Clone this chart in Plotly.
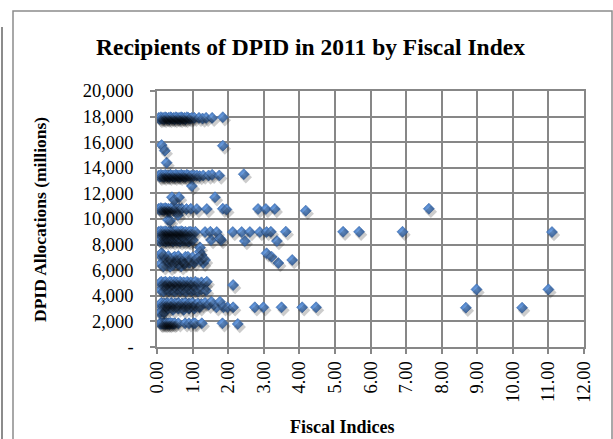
import plotly.graph_objects as go

# ---- data (fiscal index, DPID allocation in millions) ----
band_18k_x = [0.05,0.08,0.11,0.14,0.17,0.20,0.23,0.26,0.29,0.32,0.35,0.38,0.41,0.44,0.47,0.50,0.53,0.56,0.59,0.62,0.65,0.68,0.71,0.74,0.77,0.80,0.84,0.88,0.93,0.98,1.05,1.18,1.28,1.38,1.55,1.85]
band_18k_y = [17900,17800,17950,17850,17900,17800,17950,17900,17850,17900,17800,17950,17900,17850,17900,17800,17950,17900,17850,17900,17800,17950,17900,17850,17900,17800,17950,17900,17850,17900,17900,17900,17850,17900,17900,17950]

band_15k_x = [0.13,0.22,0.27,1.85]
band_15k_y = [15780,15340,14400,15730]

band_13k_x = [0.05,0.08,0.11,0.14,0.17,0.20,0.23,0.26,0.29,0.32,0.35,0.38,0.41,0.44,0.47,0.50,0.53,0.56,0.59,0.62,0.65,0.68,0.71,0.74,0.77,0.80,0.84,0.88,0.93,0.98,1.05,1.12,1.20,1.30,1.45,1.55,1.75,2.44,0.98]
band_13k_y = [13400,13300,13450,13350,13400,13300,13450,13400,13350,13400,13300,13450,13400,13350,13400,13300,13450,13400,13350,13400,13300,13450,13400,13350,13400,13300,13450,13400,13350,13400,13400,13400,13350,13400,13400,13450,13400,13500,12580]

band_11k_x = [0.42,0.50,0.62,1.63]
band_11k_y = [11700,11500,11700,11700]

band_10k_x = [0.05,0.08,0.11,0.14,0.17,0.20,0.23,0.26,0.29,0.32,0.36,0.40,0.45,0.50,0.55,0.62,0.70,0.83,0.95,1.12,1.40,1.85,1.95,2.84,3.06,3.31,4.18,7.64,0.31,0.59,0.37]
band_10k_y = [10800,10700,10850,10750,10800,10700,10850,10800,10750,10800,10700,10850,10800,10750,10800,10800,10800,10780,10800,10780,10780,10800,10750,10780,10780,10780,10650,10800,9920,10310,9870]

band_9k_x = [0.05,0.08,0.11,0.14,0.17,0.20,0.23,0.26,0.29,0.32,0.35,0.38,0.41,0.44,0.47,0.50,0.53,0.56,0.59,0.62,0.65,0.68,0.72,0.76,0.80,0.85,0.90,0.95,1.00,1.08,1.35,1.50,1.68,2.13,2.38,2.61,2.89,3.08,3.20,3.62,5.23,5.68,6.90,11.10]
band_9k_y = [9000,8900,9050,8950,9000,8900,9050,9000,8950,9000,8900,9050,9000,8950,9000,8900,9050,9000,8950,9000,8900,9050,9000,8950,9000,8900,9000,9000,8950,9000,8980,9000,8980,8980,8980,8980,8980,8980,9000,9010,9000,9000,9000,8980]

band_8k_x = [0.05,0.09,0.13,0.17,0.21,0.25,0.29,0.33,0.37,0.41,0.45,0.50,0.55,0.60,0.65,0.70,0.75,0.79,0.85,0.90,0.95,1.01,1.21,1.52,1.80,1.77,2.47,3.37]
band_8k_y = [8350,8250,8400,8300,8350,8250,8400,8300,8350,8360,8250,8400,8300,8360,8250,8350,8300,8360,8300,8250,8350,8360,7780,8360,8360,8490,8280,8280]

band_7k_x = [0.08,0.13,0.17,0.22,0.27,0.32,0.37,0.42,0.47,0.50,0.55,0.60,0.65,0.70,0.74,0.80,0.87,0.93,1.00,1.05,1.12,1.20,1.25,1.30,0.10,0.18,0.25,0.35,0.45,0.58,0.68,0.78,0.90,1.20,1.35,3.08,3.22,3.41,3.80]
band_7k_y = [7190,7340,7190,6560,6900,7100,6270,6700,7000,7050,6660,7100,6900,6660,6700,7050,7050,6650,7000,6600,6900,7450,7190,6560,6500,6300,6800,6900,6400,6500,6300,6500,6560,7050,6800,7320,7050,6560,6800]

band_5k_x = [0.08,0.12,0.16,0.20,0.24,0.28,0.32,0.36,0.40,0.44,0.48,0.52,0.56,0.60,0.65,0.70,0.75,0.80,0.85,0.90,0.95,1.00,1.08,1.15,1.25,1.35,1.40,0.10,0.18,0.26,0.34,0.42,0.50,0.58,0.66,0.74,0.82,0.90,0.98,1.06,1.15,1.25,1.38,2.14,8.98,11.00]
band_5k_y = [5000,5100,4950,5050,5100,5000,4950,5100,5050,4950,5100,5000,5050,4950,5100,5000,5050,4950,5100,5000,5050,4950,5100,5000,5050,4950,5100,4450,4350,4500,4400,4450,4350,4500,4400,4450,4350,4500,4400,4450,4350,4500,4400,4840,4500,4500]

band_3k_x = [0.08,0.12,0.16,0.20,0.24,0.28,0.32,0.36,0.40,0.45,0.50,0.55,0.60,0.65,0.70,0.75,0.80,0.85,0.90,0.95,1.00,1.08,1.15,1.25,1.35,1.45,0.08,0.11,0.15,0.20,0.30,0.45,0.60,0.75,0.90,1.05,1.20,1.53,1.67,1.77,1.87,1.98,2.14,2.75,2.99,3.50,4.08,4.47,8.68,10.26]
band_3k_y = [3300,3450,3250,3400,3300,3450,3350,3300,3450,3300,3400,3350,3450,3300,3400,3350,3450,3300,3400,3350,3450,3300,3400,3350,3450,3300,2650,2750,2900,2700,3000,2900,3000,2900,3000,3000,3100,3540,3100,3540,3100,3100,3100,3100,3100,3100,3100,3100,3070,3070]

band_2k_x = [0.08,0.11,0.14,0.17,0.20,0.23,0.26,0.29,0.32,0.35,0.38,0.42,0.46,0.50,0.60,0.79,0.90,1.02,1.07,1.26,1.84,2.27]
band_2k_y = [1850,1800,1870,1820,1850,1800,1870,1820,1850,1800,1870,1850,1820,1850,1850,1850,1850,1850,1850,1850,1850,1800]

fiscal_index = (band_18k_x + band_15k_x + band_13k_x + band_11k_x + band_10k_x + band_9k_x
                + band_8k_x + band_7k_x + band_5k_x + band_3k_x + band_2k_x)
allocation = (band_18k_y + band_15k_y + band_13k_y + band_11k_y + band_10k_y + band_9k_y
              + band_8k_y + band_7k_y + band_5k_y + band_3k_y + band_2k_y)

x_tick_vals = [0,1,2,3,4,5,6,7,8,9,10,11,12]
x_tick_text = ["0.00","1.00","2.00","3.00","4.00","5.00","6.00","7.00","8.00","9.00","10.00","11.00","12.00"]
y_tick_vals = [0,2000,4000,6000,8000,10000,12000,14000,16000,18000,20000]
y_tick_text = ["-","2,000","4,000","6,000","8,000","10,000","12,000","14,000","16,000","18,000","20,000"]

title_text = "Recipients of DPID in 2011 by Fiscal Index"
x_title = "Fiscal Indices"
y_title = "DPID Allocations (millions)"

# ---- styling ----
W, H = 613, 439
L, R, T, B = 157, 29, 91, 92
pw, ph = W - L - R, H - T - B
grid = "#878787"
serif = "Liberation Serif"

def px_x(p):  # pixel -> paper x
    return (p - L) / pw

def px_y(p):  # pixel -> paper y
    return (H - B - p) / ph

fig = go.Figure()

# drop shadow (same data, drawn on overlay axes offset by a few pixels)
fig.add_trace(go.Scatter(
    x=fiscal_index, y=allocation, mode="markers", xaxis="x2", yaxis="y2",
    marker=dict(symbol="diamond", size=9.5, color="rgba(0,0,0,0.2)", line=dict(width=0)),
    hoverinfo="skip", showlegend=False))

fig.add_trace(go.Scatter(
    x=fiscal_index, y=allocation, mode="markers",
    marker=dict(symbol="diamond", size=8.5, color="#4679c0",
                gradient=dict(type="radial", color="#76a8e8"),
                line=dict(width=0.6, color="#3a69aa")),
    showlegend=False))

dx_units = 2 * 12 / pw
dy_units = 3 * 20000 / ph

axis_common = dict(showgrid=True, gridcolor=grid, gridwidth=1.5, zeroline=False,
                   showline=True, linecolor=grid, linewidth=1.5, mirror=True,
                   ticks="outside", tickcolor=grid, tickwidth=1.5, ticklen=5)

fig.update_layout(
    width=W, height=H,
    margin=dict(l=L, r=R, t=T, b=B, pad=0),
    paper_bgcolor="white", plot_bgcolor="white",
    xaxis=dict(range=[0, 12], tickvals=x_tick_vals, ticktext=x_tick_text, tickangle=-90,
               tickfont=dict(family=serif, size=18.5, color="black"), **axis_common),
    yaxis=dict(range=[0, 20000], tickvals=y_tick_vals, ticktext=y_tick_text,
               ticklabelstandoff=13,
               tickfont=dict(family=serif, size=18.5, color="black"), **axis_common),
    xaxis2=dict(range=[-dx_units, 12 - dx_units], overlaying="x", visible=False),
    yaxis2=dict(range=[dy_units, 20000 + dy_units], overlaying="y", visible=False),
    annotations=[
        dict(text=f"<b>{title_text}</b>", xref="paper", yref="paper",
             x=px_x(310), y=px_y(47), showarrow=False, xanchor="center", yanchor="middle",
             font=dict(family=serif, size=23.5, color="black")),
        dict(text=f"<b>{x_title}</b>", xref="paper", yref="paper",
             x=px_x(342), y=px_y(427), showarrow=False, xanchor="center", yanchor="middle",
             font=dict(family=serif, size=18, color="black")),
        dict(text=f"<b>{y_title}</b>", xref="paper", yref="paper", textangle=-90,
             x=px_x(40), y=0.5, showarrow=False, xanchor="center", yanchor="middle",
             font=dict(family=serif, size=17.5, color="black")),
    ],
    shapes=[
        dict(type="rect", xref="paper", yref="paper", x0=px_x(13), x1=px_x(612),
             y0=px_y(460), y1=px_y(11), line=dict(color="#8c8c8c", width=1.5), layer="below"),
        dict(type="line", xref="paper", yref="paper", x0=px_x(2), x1=px_x(2),
             y0=px_y(460), y1=px_y(27), line=dict(color="#8c8c8c", width=2)),
    ],
)

fig.write_html("out.html")
